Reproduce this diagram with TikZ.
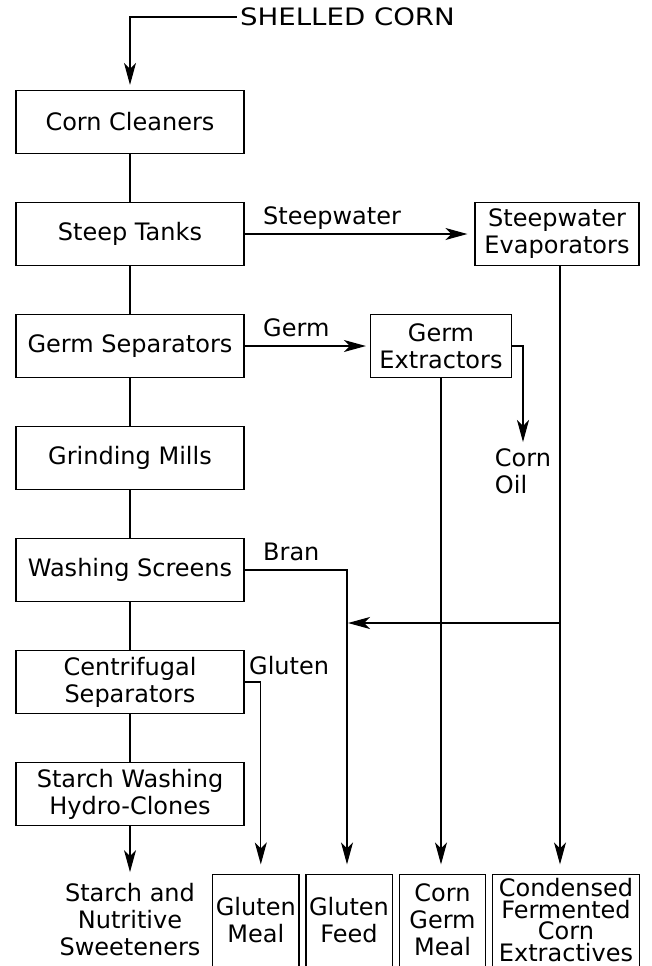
\documentclass[tikz,border=0pt]{standalone}
\usepackage{fontspec}
\setmainfont{DejaVu Sans}
\usetikzlibrary{arrows.meta,positioning,calc}
\tikzstyle{stage}=[draw,align=center,minimum width=114pt,minimum height=31.5pt,inner sep=0pt]
\tikzstyle{product}=[align=center,minimum height=45pt,inner sep=0pt]
\tikzstyle{flow} = [draw,-{Stealth[length=11pt,width=6pt,inset=3pt]},shorten >=5pt]
\tikzstyle{link} = [draw]
\tikzstyle{stream} = [inner sep=0pt,anchor=base west]

\begin{document}
\begin{tikzpicture}[x=0.5pt,y=-0.5pt,line width=0.6pt,font=\fontsize{12}{13.5}\selectfont]
    \clip (0,0) rectangle (652,966);
    % The wet milling line on the left
    \foreach \pos/\name/\txt in {{(130,122)/clean/Corn Cleaners}, {(130,234)/steep/Steep Tanks},
        {(130,346)/gsep/Germ Separators}, {(130,458)/grind/Grinding Mills}, {(130,570)/wash/Washing Screens},
        {(130,682)/cent/{Centrifugal\\Separators}}, {(130,794)/starch/{Starch Washing\\Hydro-Clones}}}
        \node[stage] (\name) at \pos {\txt};
    \foreach \source/\dest in {clean/steep, steep/gsep, gsep/grind, grind/wash, wash/cent, cent/starch}
        \path[link] (\source) -- (\dest);

    % Side units
    \node[stage, minimum width=82pt] (evap) at (557,234) {Steepwater\\Evaporators};
    \node[stage, minimum width=70.5pt] (gext) at (441,346) {Germ\\Extractors};

    % Feed and outputs
    \node[inner sep=1.5pt, anchor=west, font=\fontsize{12}{13.5}\selectfont\addfontfeatures{FakeStretch=1.15}]
        (shelled) at (236.5,17) {SHELLED CORN};
    \node[inner sep=0pt, align=left, anchor=north] (oil) at (523,448) {Corn\\Oil};
    \node[inner sep=0pt, align=center] (sweet) at (130,920) {Starch and\\Nutritive\\Sweeteners};
    \node[product, minimum width=42.5pt] (gmeal) at (255.8,920) {Gluten\\Meal};
    \node[product, minimum width=42.5pt] (gfeed) at (349,920) {Gluten\\Feed};
    \node[product, minimum width=42.5pt] (cgm) at (442.5,920) {Corn\\Germ\\Meal};
    \node[product, minimum width=73pt, font=\fontsize{12}{10.75}\selectfont] (cfce) at (566,920)
        {Condensed\\Fermented\\Corn\\Extractives};
    % boxes run off the bottom of the page
    \foreach \n in {gmeal, gfeed, cgm, cfce}
        \draw ([yshift=-5pt]\n.south west) |- (\n.north east) -- ([yshift=-5pt]\n.south east);

    % Streams
    \path[flow, shorten >=2.5pt] (shelled.west) -| (clean.north);
    \path[flow, shorten >=3.5pt] (steep.east) -- (evap.west);
    \path[flow, shorten >=2pt] (gsep.east) -- (gext.west);
    \path[flow, shorten >=3pt] (gext.east) -| (oil.north);
    \path[flow] (gext.south) -- (gext.south |- cgm.north);
    \path[flow] ([xshift=1.5pt]evap.south) -- ([xshift=1.5pt]evap.south |- cfce.north);
    \path[flow] (wash.east) -| ([xshift=-1pt]gfeed.north);
    \path[flow] (cent.east) -| ([xshift=2.5pt]gmeal.north);
    \path[flow, shorten >=5.5pt] (starch.south) -- (sweet.north);
    \coordinate (mix) at (348,623);
    \path[flow, shorten >=0pt] ([xshift=1.5pt]evap.south |- mix) -- (mix);

    % Stream labels
    \node[stream] at ([shift={(9pt,5pt)}]steep.east) {Steepwater};
    \node[stream] at ([shift={(9pt,5pt)}]gsep.east) {Germ};
    \node[stream] at ([shift={(9pt,5pt)}]wash.east) {Bran};
    \node[stream] at ([shift={(2pt,4pt)}]cent.east) {Gluten};
\end{tikzpicture}
\end{document}
